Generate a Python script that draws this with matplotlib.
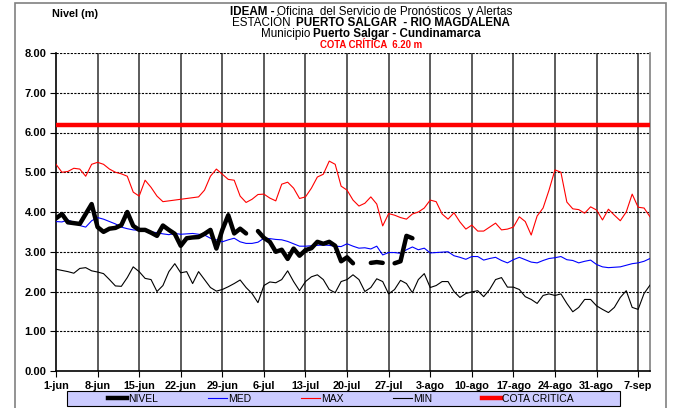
import numpy as np
import matplotlib
matplotlib.use('Agg')
import matplotlib.pyplot as plt
from matplotlib.lines import Line2D
from matplotlib.patches import Rectangle

plt.rcParams['font.family'] = ['Liberation Sans', 'DejaVu Sans']

# datos diarios desde el 1-jun (lectura del grafico)
nivel = [3.84, 3.95, 3.74, 3.72, 3.70, 3.95, 4.20, 3.62, 3.50, 3.58,
         3.60, 3.67, 4.00, 3.65, 3.55, 3.55, 3.48, 3.40, 3.66, 3.55,
         3.45, 3.15, 3.34, 3.36, 3.37, 3.45, 3.55, 3.08, 3.55, 3.92,
         3.46, 3.58, 3.46, np.nan, 3.52, 3.35, 3.25, 3.00, 3.05, 2.82,
         3.08, 2.90, 3.04, 3.09, 3.25, 3.20, 3.25, 3.15, 2.76, 2.86,
         2.71, np.nan, np.nan, 2.72, 2.74, 2.72, np.nan, 2.71, 2.76, 3.40,
         3.34] + [np.nan] * 40

med = [3.76, 3.75, 3.80, 3.74, 3.66, 3.62, 3.78, 3.86, 3.82, 3.76,
       3.70, 3.62, 3.58, 3.55, 3.54, 3.52, 3.50, 3.48, 3.45, 3.43,
       3.46, 3.44, 3.45, 3.46, 3.44, 3.42, 3.34, 3.30, 3.25, 3.30,
       3.34, 3.25, 3.21, 3.21, 3.24, 3.34, 3.33, 3.31, 3.30, 3.26,
       3.20, 3.14, 3.14, 3.15, 3.16, 3.17, 3.16, 3.14, 3.13, 3.20,
       3.14, 3.09, 3.10, 3.07, 3.14, 2.92, 2.98, 2.98, 2.96, 3.05,
       3.12, 3.05, 3.09, 2.97, 2.98, 2.99, 3.00, 2.90, 2.86, 2.81,
       2.88, 2.88, 2.79, 2.83, 2.86, 2.78, 2.72, 2.80, 2.86, 2.80,
       2.74, 2.72, 2.78, 2.83, 2.85, 2.88, 2.80, 2.78, 2.72, 2.76,
       2.79, 2.68, 2.62, 2.60, 2.61, 2.62, 2.66, 2.70, 2.72, 2.76,
       2.83]

maximo = [5.20, 5.00, 5.02, 5.10, 5.08, 4.90, 5.20, 5.25, 5.20, 5.08,
          5.00, 4.96, 4.90, 4.50, 4.40, 4.80, 4.62, 4.40, 4.26, 4.28,
          4.30, 4.32, 4.34, 4.36, 4.38, 4.55, 4.90, 5.08, 4.95, 4.82,
          4.80, 4.40, 4.24, 4.32, 4.44, 4.45, 4.35, 4.28, 4.70, 4.75,
          4.60, 4.34, 4.38, 4.60, 4.88, 4.95, 5.28, 5.20, 4.65, 4.55,
          4.30, 4.15, 4.22, 4.38, 4.20, 3.65, 3.96, 3.92, 3.86, 3.82,
          3.95, 4.00, 4.10, 4.30, 4.26, 3.95, 3.82, 3.98, 3.75, 3.57,
          3.67, 3.52, 3.52, 3.62, 3.72, 3.55, 3.57, 3.62, 3.88, 3.76,
          3.42, 3.90, 4.10, 4.55, 5.06, 5.00, 4.25, 4.08, 4.06, 3.97,
          4.13, 4.05, 3.80, 4.07, 3.92, 3.78, 4.00, 4.45, 4.12, 4.10,
          3.88]

minimo = [2.56, 2.53, 2.50, 2.46, 2.58, 2.60, 2.52, 2.49, 2.45, 2.30,
          2.14, 2.13, 2.35, 2.62, 2.50, 2.33, 2.30, 2.00, 2.15, 2.50,
          2.70, 2.47, 2.50, 2.20, 2.50, 2.30, 2.10, 2.01, 2.05, 2.12,
          2.20, 2.29, 2.10, 1.95, 1.72, 2.15, 2.24, 2.22, 2.30, 2.52,
          2.25, 2.02, 2.25, 2.37, 2.42, 2.30, 2.05, 1.97, 2.25, 2.30,
          2.42, 2.30, 2.00, 2.10, 2.32, 2.25, 1.94, 2.05, 2.28, 2.20,
          1.97, 2.30, 2.45, 2.10, 2.15, 2.25, 2.25, 2.00, 1.85, 1.95,
          1.99, 2.02, 1.87, 2.05, 2.30, 2.35, 2.11, 2.11, 2.05, 1.87,
          1.80, 1.70, 1.90, 1.94, 1.90, 1.94, 1.70, 1.49, 1.60, 1.80,
          1.80, 1.64, 1.55, 1.47, 1.60, 1.85, 2.02, 1.60, 1.55, 1.95,
          2.16]

cota_critica = 6.20

etiquetas_x = ['1-jun', '8-jun', '15-jun', '22-jun', '29-jun', '6-jul', '13-jul',
               '20-jul', '27-jul', '3-ago', '10-ago', '17-ago', '24-ago',
               '31-ago', '7-sep']

dias = np.arange(len(maximo))

W, H = 674, 408
fig = plt.figure(figsize=(W / 100, H / 100), dpi=100)
ax = fig.add_axes([56 / W, 1 - 371 / H, 594 / W, 318 / H])

# marco exterior
fig.patches.append(Rectangle((15 / W, -0.05), 651 / W, 1.05 - 3 / H,
                             transform=fig.transFigure, fill=False,
                             edgecolor='#808080', linewidth=1.2))

ax.plot(dias, minimo, color='black', linewidth=0.8, zorder=3)
ax.plot(dias, maximo, color='#FF0000', linewidth=0.8, zorder=3)
ax.plot(dias, med, color='#0000FF', linewidth=0.8, zorder=3)
ax.plot(dias, nivel, color='black', linewidth=3.2, zorder=4,
        solid_capstyle='round', solid_joinstyle='round')
ax.plot([dias[0], dias[-1]], [cota_critica, cota_critica], color='#FF0000',
        linewidth=3.2, zorder=4)

ax.set_xlim(0, 100)
ax.set_ylim(0, 8)

ticks_x = np.arange(len(etiquetas_x)) * 7
ax.set_xticks(ticks_x)
ax.set_xticklabels(etiquetas_x, fontsize=7.8, fontweight='bold')
ax.set_yticks(np.arange(0, 9, 1))
ax.set_yticklabels(['%.2f' % v for v in range(9)], fontsize=8, fontweight='bold')
ax.tick_params(axis='both', direction='out', length=4, width=0.8, pad=3)

# rejilla: verticales continuas, horizontales punteadas
ax.vlines(ticks_x[1:], 0, 8, colors='#404040', linewidth=1.2, zorder=2)
for v in range(1, 9):
    ax.axhline(v, color='black', linewidth=0.8, linestyle=(0, (2, 1.2)), zorder=2)

ax.spines['top'].set_visible(False)
ax.spines['right'].set_color('#808080')
ax.spines['right'].set_linewidth(1.2)
ax.spines['left'].set_linewidth(1.2)
ax.spines['bottom'].set_linewidth(1.2)

# titulos (partes normales y negritas, centradas a mano)
fig.text(52 / W, 1 - 14 / H, 'Nivel (m)', fontsize=7.8, fontweight='bold',
         va='center', ha='left')

renderer = fig.canvas.get_renderer()


def linea_titulo(y, partes, size=8.4, centro=371, hueco=3):
    textos = []
    for s, peso, color in partes:
        textos.append(fig.text(0, 1 - y / H, s, fontsize=size, fontweight=peso,
                               color=color, va='center', ha='left'))
    anchos = [t.get_window_extent(renderer).width for t in textos]
    x = centro - (sum(anchos) + hueco * (len(textos) - 1)) / 2
    for t, a in zip(textos, anchos):
        t.set_x(x / W)
        x += a + hueco


linea_titulo(12, [('IDEAM -', 'bold', 'black'),
                  ('Oficina  del Servicio de Pronósticos  y Alertas', 'normal', 'black')])
linea_titulo(23, [('ESTACIÓN ', 'normal', 'black'),
                  ('PUERTO SALGAR  - RIO MAGDALENA', 'bold', 'black')])
linea_titulo(34, [('Municipio', 'normal', 'black'),
                  ('Puerto Salgar - Cundinamarca', 'bold', 'black')])
linea_titulo(45, [('COTA CRÍTICA  6.20 m', 'bold', '#FF0000')], size=6.9)

# leyenda con caja lila
fig.patches.append(Rectangle((67 / W, 1 - 406 / H), 553 / W, 15 / H,
                             transform=fig.transFigure, facecolor='#CCCCFF',
                             edgecolor='black', linewidth=0.8))
handles = [Line2D([], [], color='black', linewidth=3.2),
           Line2D([], [], color='#0000FF', linewidth=0.8),
           Line2D([], [], color='#FF0000', linewidth=0.8),
           Line2D([], [], color='black', linewidth=0.8),
           Line2D([], [], color='#FF0000', linewidth=3.2)]
labels = ['NIVEL', 'MED', 'MAX', 'MIN', 'COTA CRITICA']
fig.legend(handles, labels, loc='center', ncol=5,
           bbox_to_anchor=(341 / W, 1 - 398.5 / H),
           fontsize=7.5, frameon=False,
           handlelength=1.8, handletextpad=0.1, columnspacing=4.8,
           borderpad=0.1)

fig.savefig('out.png', dpi=100)
